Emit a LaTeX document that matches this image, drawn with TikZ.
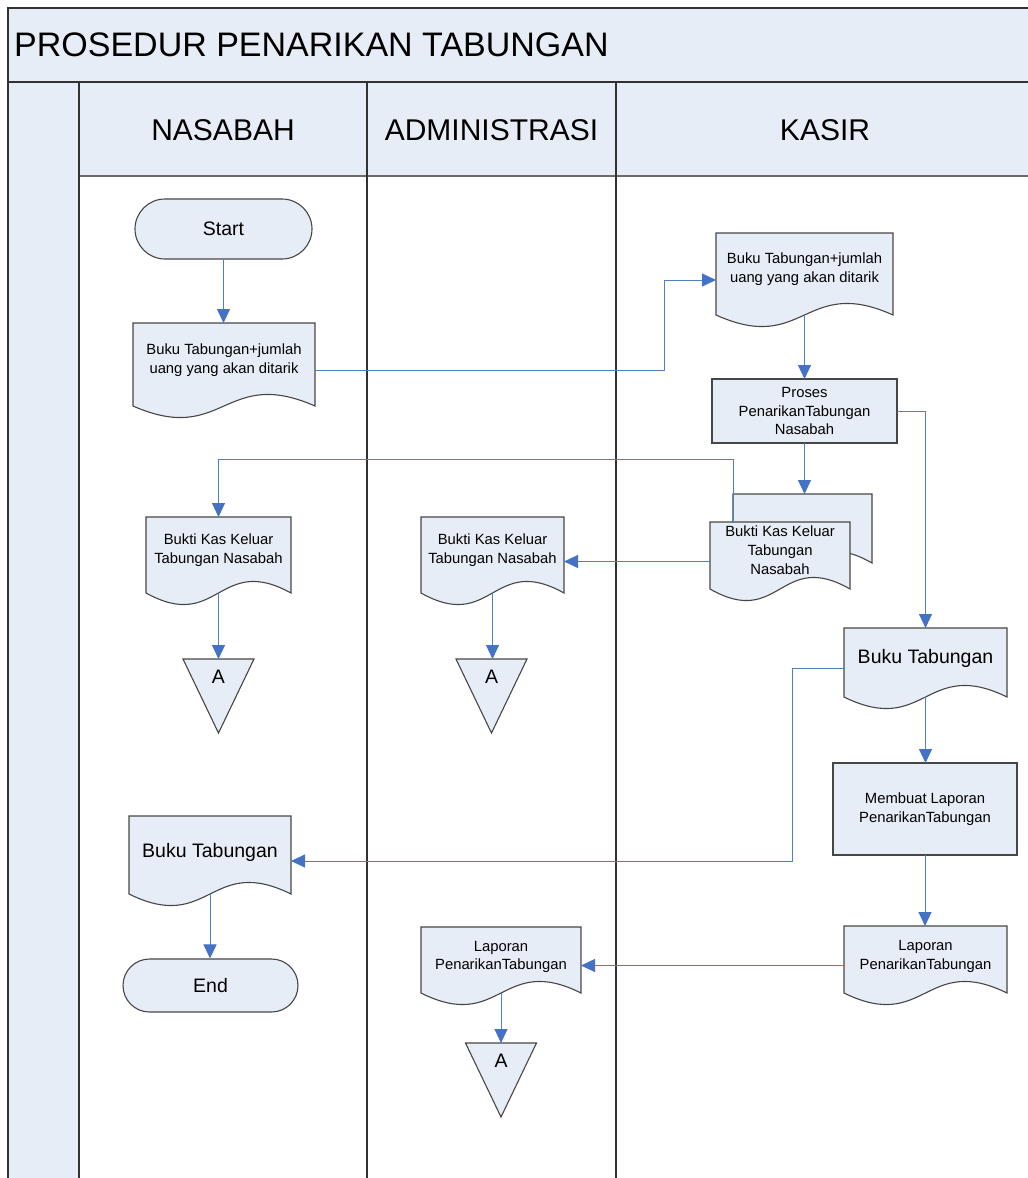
\documentclass[tikz,border=0pt]{standalone}
\usepackage{fontspec}
\setmainfont{Liberation Sans}
\usetikzlibrary{arrows.meta,shapes.misc,calc}

\pgfdeclarelayer{frame}
\pgfdeclarelayer{shapes}
\pgfsetlayers{frame,shapes,main}

\definecolor{lanefill}{RGB}{231,237,247}
\definecolor{shapeline}{RGB}{70,70,70}
\definecolor{frameline}{RGB}{50,50,50}
\definecolor{headline}{RGB}{105,105,110}
\definecolor{flow}{RGB}{79,129,189}
\definecolor{flowtip}{RGB}{68,114,196}

\tikzset{
  box/.style={rectangle, inner sep=0pt, outer sep=0pt},
  txt/.style={inner sep=0pt, align=center, font=\fontsize{14.8}{18.8}\selectfont},
  bigtxt/.style={inner sep=0pt, align=center, font=\fontsize{19.5}{23}\selectfont},
  headtxt/.style={inner sep=0pt, font=\fontsize{30}{36}\selectfont},
  shapefill/.style={fill=lanefill, draw=shapeline, line width=1.1pt},
  procbox/.style={box, shapefill, txt},
  terminal/.style={rounded rectangle, inner sep=0pt, shapefill, bigtxt},
  framerule/.style={draw=frameline, line width=1.5pt},
  headrule/.style={draw=headline, line width=1.6pt},
  flowline/.style={draw=flow, line width=1pt,
    -{Triangle[length=14pt,width=13pt,color=flowtip]}},
}

% document symbol: name, centre x, top, width, height down to the side corners
\newcommand\docshape[5]{%
  \node[box, minimum width=#4pt, minimum height=#5pt] (#1) at (#2,#3+#5/2) {};
  \coordinate (#1-e) at ([yshift=-6pt]#1.east);
  \coordinate (#1-w) at ([yshift=-6pt]#1.west);
  \begin{pgfonlayer}{shapes}
    \path[shapefill] (#1.north west) -- (#1.north east) -- (#1.south east)
      .. controls ([yshift=40pt]#1.south) and ([yshift=-40pt]#1.south) .. (#1.south west) -- cycle;
  \end{pgfonlayer}}

% off-page connector: name, centre x, top
\newcommand\offpage[3]{%
  \node[box, minimum width=71pt, minimum height=74pt] (#1) at (#2,#3+37) {};
  \node[bigtxt] (#1-t) at ([yshift=-18pt]#1.north) {A};
  \begin{pgfonlayer}{shapes}
    \path[shapefill] (#1.north west) -- (#1.north east) -- (#1.south) -- cycle;
  \end{pgfonlayer}}

\begin{document}
\begin{tikzpicture}[x=1pt, y=-1pt]
\useasboundingbox (0,0) rectangle (1028,1178);

% swimlane frame
\begin{pgfonlayer}{frame}
  \begin{scope}
    \clip (0,0) rectangle (1028,1178);
    \fill[lanefill] (8,8) rectangle (1040,82);
    \fill[lanefill] (8,82) rectangle (79,1190);
    \fill[lanefill] (79,82) rectangle (1040,176);
    \draw[headrule] (79,176) -- (1040,176);
    \draw[framerule] (8,1190) -- (8,8) -- (1040,8);
    \draw[framerule] (8,82) -- (1040,82);
    \draw[framerule] (79,82) -- (79,1190);
    \draw[framerule] (367,82) -- (367,1190);
    \draw[framerule] (616,82) -- (616,1190);
  \end{scope}
\end{pgfonlayer}

\node[anchor=west, inner sep=0pt, font=\fontsize{34}{40}\selectfont] (title) at (14,45) {PROSEDUR PENARIKAN TABUNGAN};
\node[headtxt] (lane1) at (223,130) {NASABAH};
\node[headtxt] (lane2) at (491.5,130) {ADMINISTRASI};
\node[headtxt] (lane3) at (825,130) {KASIR};

% NASABAH
\node[terminal, minimum width=177pt, minimum height=60pt] (start) at (223.5,229) {Start};
\docshape{d1}{224}{323}{182}{83}
\node[txt] (d1-t) at ([yshift=4pt]d1.center) {Buku Tabungan+jumlah\\uang yang akan ditarik};
\docshape{nb}{218.5}{517}{145}{76}
\node[txt] (nb-t) at ([yshift=5pt]nb.center) {Bukti Kas Keluar\\Tabungan Nasabah};
\offpage{tri1}{218.5}{659}
\docshape{nbt}{210}{816}{162}{78}
\node[bigtxt] (nbt-t) at ([yshift=3pt]nbt.center) {Buku Tabungan};
\node[terminal, minimum width=175pt, minimum height=53pt] (stop) at (210.5,985.5) {End};

% ADMINISTRASI
\docshape{ab}{492.5}{517}{143}{76}
\node[txt] (ab-t) at ([yshift=5pt]ab.center) {Bukti Kas Keluar\\Tabungan Nasabah};
\offpage{tri2}{491.5}{659}
\docshape{al}{501}{927}{160}{66}
\node[txt] (al-t) at ([yshift=3pt]al.center) {Laporan\\PenarikanTabungan};
\offpage{tri3}{501}{1043}

% KASIR
\docshape{d2}{804.5}{233}{177}{82}
\node[txt] (d2-t) at ([yshift=5pt]d2.center) {Buku Tabungan+jumlah\\uang yang akan ditarik};
\node[procbox, minimum width=185pt, minimum height=64pt] (proses) at (804.5,411) {Proses\\PenarikanTabungan\\Nasabah};
\docshape{mback}{802.5}{494}{139}{69}
\docshape{mfront}{780}{522}{140}{67}
\node[txt] (mfront-t) at ([yshift=5pt]mfront.center) {Bukti Kas Keluar\\Tabungan\\Nasabah};
\docshape{bk}{925.5}{628}{163}{69}
\node[bigtxt] (bk-t) at ([yshift=4pt]bk.center) {Buku Tabungan};
\node[procbox, minimum width=184pt, minimum height=92pt] (mk) at (925,809) {Membuat Laporan\\PenarikanTabungan};
\docshape{lk}{925.5}{926}{163}{67}
\node[txt] (lk-t) at ([yshift=3pt]lk.center) {Laporan\\PenarikanTabungan};

% flow
\draw[flowline] (start.south) -- (start.south |- d1.north);
\draw[flowline] (d1-e) -- ++(349,0) |- (d2-w);
\draw[flowline] (d2.south) -- (d2.south |- proses.north);
\draw[flowline] (proses.south) -- (proses.south |- mback.north);
\draw[flowline] (mback.west |- mfront.north) -- ++(0,-63) -| (nb.north);
\draw[flowline] (mfront-w) -- (mfront-w -| ab.east);
\draw[flowline] (proses.east) -| (bk.north);
\draw[flowline] (bk-w) -- ++(-52,0) |- (nbt-e);
\draw[flowline] (bk.south) -- (bk.south |- mk.north);
\draw[flowline] (mk.south) -- (mk.south |- lk.north);
\draw[flowline] (lk-w) -- (lk-w -| al.east);
\draw[flowline] (nb.south) -- (tri1.north);
\draw[flowline] (ab.south) -- (ab.south |- tri2.north);
\draw[flowline] (al.south) -- (al.south |- tri3.north);
\draw[flowline] (nbt.south) -- (nbt.south |- stop.north);
\end{tikzpicture}
\end{document}
